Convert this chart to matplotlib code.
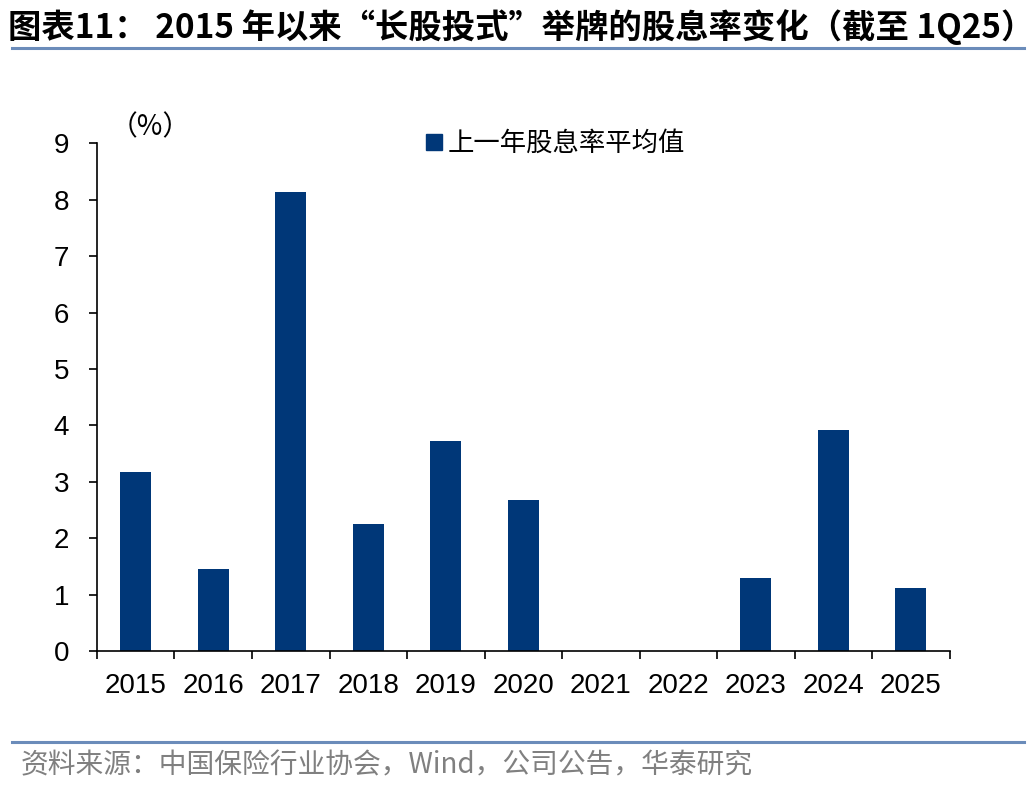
import numpy as np
import matplotlib
matplotlib.use("Agg")
import matplotlib.pyplot as plt
from matplotlib.lines import Line2D

plt.rcParams['font.family'] = ['Liberation Sans', 'Noto Sans CJK SC', 'DejaVu Sans']

years = ['2015', '2016', '2017', '2018', '2019', '2020', '2021', '2022', '2023', '2024', '2025']
dividend_yield = [3.17, 1.45, 8.14, 2.25, 3.72, 2.68, 0, 0, 1.29, 3.92, 1.12]
yticks = list(range(0, 10))

title = '图表11： 2015 年以来“长股投式”举牌的股息率变化（截至 1Q25）'
legend_label = '上一年股息率平均值'
source = '资料来源：中国保险行业协会，Wind，公司公告，华泰研究'

bar_color = '#003778'
line_color = '#6b8cba'
cjk = ['Noto Sans CJK SC', 'DejaVu Sans']

fig = plt.figure(figsize=(10.36, 7.92), dpi=100)
ax = fig.add_axes([0.0936, 0.178, 0.823, 0.641])

x = np.arange(len(years))
ax.bar(x, dividend_yield, width=0.4, color=bar_color)

ax.set_xlim(-0.5, len(years) - 0.5)
ax.set_ylim(0, 9)
ax.set_yticks(yticks)
ax.set_yticklabels([str(t) for t in yticks])
ax.set_xticks(x)
ax.set_xticklabels(years)
ax.tick_params(axis='x', length=0, pad=16, labelsize=20)
ax.set_xticks(np.arange(-0.5, len(years)), minor=True)
ax.tick_params(axis='x', which='minor', length=6, width=1.2, direction='out')
ax.tick_params(axis='y', length=6, width=1.2, direction='out', labelsize=20, pad=14)
for s in ['top', 'right']:
    ax.spines[s].set_visible(False)
for s in ['left', 'bottom']:
    ax.spines[s].set_linewidth(1.2)

ax.text(0.015, 1.032, '（%）', transform=ax.transAxes, fontsize=20, family=cjk,
        va='center', ha='left')

handle = Line2D([], [], marker='s', linestyle='none', markersize=11, color=bar_color)
ax.legend([handle], [legend_label], loc='center left', bbox_to_anchor=(0.355, 1.0),
          frameon=False, prop={'family': cjk, 'size': 19}, handletextpad=0.1,
          handlelength=0.8)

fig.text(0.008, 0.966, title, fontsize=24, fontweight='bold', family=cjk,
         va='center', ha='left')
fig.add_artist(Line2D([0.012, 0.988], [0.939, 0.939], color=line_color, lw=2.2))
fig.add_artist(Line2D([0.012, 0.988], [0.063, 0.063], color=line_color, lw=2.2))
fig.text(0.02, 0.033, source, fontsize=20, color='#808080', family=cjk,
         va='center', ha='left')

fig.savefig('out.png', dpi=100)
